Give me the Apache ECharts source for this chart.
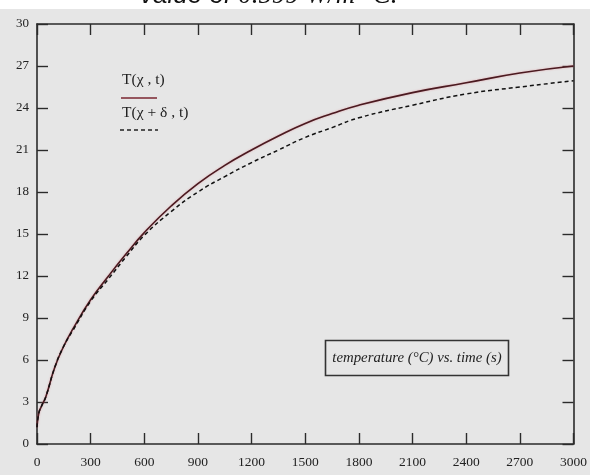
<!DOCTYPE html>
<html>
<head>
<meta charset="utf-8">
<script src="https://cdn.jsdelivr.net/npm/echarts@6/dist/echarts.min.js"></script>
<style>
  html, body { margin: 0; padding: 0; background: #e6e6e6; }
  #chart { width: 590px; height: 475px; }
</style>
</head>
<body>
<div id="chart"></div>
<script>
// time (s)
const times = [0, 10, 25, 50, 100, 150, 200, 300, 400, 500, 600, 750, 900, 1050, 1200, 1350, 1500, 1650, 1800, 2100, 2400, 2700, 3000]
// T(chi, t)
const tempBase = [1.2, 2.2, 2.7, 3.4, 5.5, 7.0, 8.2, 10.3, 12.0, 13.6, 15.1, 17.0, 18.6, 19.9, 21.0, 22.0, 22.9, 23.6, 24.2, 25.1, 25.8, 26.5, 27.0]
// T(chi + delta, t)
const tempShift = [1.2, 2.2, 2.7, 3.4, 5.5, 7.0, 8.1, 10.2, 11.8, 13.4, 14.9, 16.6, 18.0, 19.1, 20.1, 21.0, 21.9, 22.6, 23.3, 24.2, 25.0, 25.5, 25.95]

const serif = '"Liberation Serif", "DejaVu Serif", serif'

let chart = echarts.init(document.getElementById('chart'), null, { width: 590, height: 475 })

const axisLine = { show: true, onZero: false, lineStyle: { color: '#2b2b2b', width: 1.6 } }
const tick = { show: true, inside: true, length: 11, lineStyle: { color: '#2b2b2b', width: 1.4 } }

let option = {
  backgroundColor: '#e6e6e6',
  animation: false,
  grid: { left: 37, right: 13, top: 24, bottom: 31 },
  xAxis: [
    {
      type: 'value', min: 0, max: 3000, interval: 300,
      axisLine: axisLine, axisTick: tick, splitLine: { show: false },
      axisLabel: { color: '#222', fontFamily: serif, fontSize: 13.5, margin: 11, formatter: v => String(v) }
    },
    {
      type: 'value', min: 0, max: 3000, interval: 300, position: 'top',
      axisLine: axisLine, axisTick: tick, splitLine: { show: false },
      axisLabel: { show: false }
    }
  ],
  yAxis: [
    {
      type: 'value', min: 0, max: 30, interval: 3,
      axisLine: axisLine, axisTick: tick, splitLine: { show: false },
      axisLabel: { color: '#222', fontFamily: serif, fontSize: 13, margin: 8 }
    },
    {
      type: 'value', min: 0, max: 30, interval: 3, position: 'right',
      axisLine: axisLine, axisTick: tick, splitLine: { show: false },
      axisLabel: { show: false }
    }
  ],
  series: [
    {
      name: 'T(χ , t)', type: 'line', smooth: true, symbol: 'none',
      data: times.map((t, i) => [t, tempBase[i]]),
      lineStyle: { color: '#4a1a20', width: 1.6, shadowColor: 'rgba(220,120,130,0.6)', shadowBlur: 2 }
    },
    {
      name: 'T(χ + δ , t)', type: 'line', smooth: true, symbol: 'none',
      data: times.map((t, i) => [t, tempShift[i]]),
      lineStyle: { color: '#111', width: 1.5, type: [4, 3] }
    }
  ],
  graphic: [
    // white strip with the clipped caption above the chart
    { type: 'rect', left: 0, top: 0, shape: { width: 590, height: 9 }, style: { fill: '#fff' }, z: 10 },
    {
      type: 'text', x: 140, y: 9, z: 11,
      style: {
        text: '{a|value of }{b|0.599 W/m °C.}',
        verticalAlign: 'bottom',
        rich: {
          a: { font: 'italic 26px "Liberation Sans", Arial, sans-serif', fill: '#111', lineHeight: 26 },
          b: { font: 'italic 27px ' + serif, fill: '#111', lineHeight: 26 }
        }
      }
    },
    // legend
    { type: 'text', left: 122, top: 72, style: { text: 'T(χ , t)', font: '15.5px ' + serif, fill: '#222' } },
    { type: 'line', shape: { x1: 121, y1: 98, x2: 157, y2: 98 }, style: { stroke: '#7a2630', lineWidth: 1.6 } },
    { type: 'text', left: 122, top: 105, style: { text: 'T(χ + δ , t)', font: '15.5px ' + serif, fill: '#222' } },
    { type: 'line', shape: { x1: 120, y1: 130, x2: 158, y2: 130 }, style: { stroke: '#222', lineWidth: 1.4, lineDash: [4, 3] } },
    // annotation box
    {
      type: 'group', left: 323, top: 338,
      children: [
        { type: 'rect', shape: { x: 0, y: 0, width: 183, height: 35 }, style: { fill: 'none', stroke: '#333', lineWidth: 1.6 } },
        {
          type: 'text', x: 91.5, y: 17.5,
          style: { text: 'temperature (°C) vs. time (s)', font: 'italic 14.8px ' + serif, fill: '#222', align: 'center', verticalAlign: 'middle' }
        }
      ]
    }
  ]
}
chart.setOption(option)
</script>
</body>
</html>
